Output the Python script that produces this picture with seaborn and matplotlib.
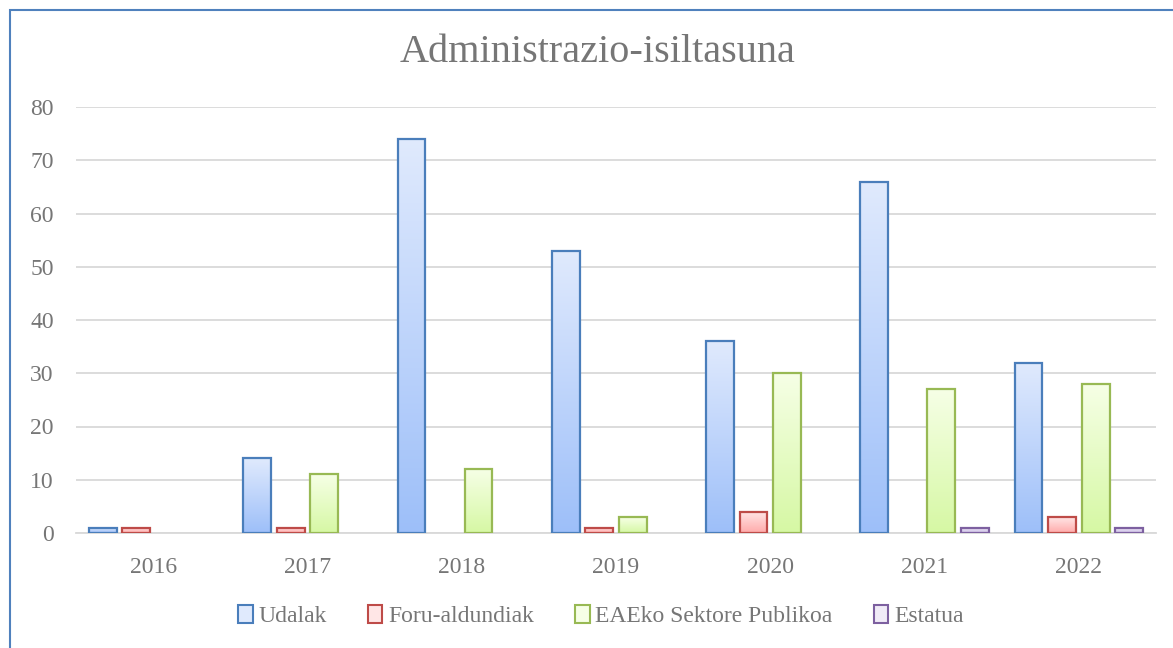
import numpy as np
import pandas as pd
import matplotlib
matplotlib.use("Agg")
import matplotlib.pyplot as plt
import seaborn as sns
from matplotlib.colors import LinearSegmentedColormap
from matplotlib.patches import Rectangle, Patch

years = ["2016", "2017", "2018", "2019", "2020", "2021", "2022"]
series = ["Udalak", "Foru-aldundiak", "EAEko Sektore Publikoa", "Estatua"]
udalak = [1, 14, 74, 53, 36, 66, 32]
foru = [1, 1, 0, 1, 4, 0, 3]
eae = [0, 11, 12, 3, 30, 27, 28]
estatua = [0, 0, 0, 0, 0, 1, 1]
title = "Administrazio-isiltasuna"

edge_colors = ["#4a7ebb", "#be4b48", "#98b954", "#7d60a0"]
top_colors = ["#e0eafd", "#ffe6e6", "#f6ffe6", "#f0ebf7"]
bot_colors = ["#9dbff9", "#ffaaaa", "#d6f8a4", "#cdbfe6"]

df = pd.DataFrame({
    "year": years * 4,
    "series": sum([[s] * len(years) for s in series], []),
    "value": udalak + foru + eae + estatua,
})

sns.set_theme(style="white")
plt.rcParams["font.family"] = ["Liberation Serif", "DejaVu Serif"]
txt = "#767676"

fig = plt.figure(figsize=(11.73, 6.48), dpi=100)
ax = fig.add_axes([76 / 1173, 1 - 533 / 648, 1080 / 1173, (533 - 107) / 648])

sns.barplot(data=df, x="year", y="value", hue="series", hue_order=series,
            order=years, palette=bot_colors, width=0.869, ax=ax, legend=False,
            saturation=1)

ax.set_xlim(-0.5, 6.5)
ax.set_ylim(0, 80)
ax.set_autoscale_on(False)

grad = np.linspace(1, 0, 256).reshape(-1, 1)
bar_w = 0.18
for i, cont in enumerate(ax.containers):
    cmap = LinearSegmentedColormap.from_list(f"g{i}", [bot_colors[i], top_colors[i]])
    for p in cont.patches:
        h = p.get_height()
        cx = p.get_x() + p.get_width() / 2
        p.set_width(bar_w)
        p.set_x(cx - bar_w / 2)
        if h <= 0:
            p.set_visible(False)
            continue
        p.set_facecolor("none")
        p.set_edgecolor(edge_colors[i])
        p.set_linewidth(1.6)
        p.set_zorder(3)
        im = ax.imshow(grad, cmap=cmap, aspect="auto",
                       extent=[cx - bar_w / 2, cx + bar_w / 2, 0, h],
                       zorder=2.5, interpolation="bilinear")
        im.set_clip_path(p)

ax.set_xlim(-0.5, 6.5)
ax.set_ylim(0, 80)
ax.set_yticks(range(0, 81, 10))
ax.yaxis.grid(True, color="#d9d9d9", linewidth=1.3)
ax.set_axisbelow(True)
for s in ["top", "right", "left"]:
    ax.spines[s].set_visible(False)
ax.spines["bottom"].set_color("#d9d9d9")
ax.spines["bottom"].set_linewidth(1.3)
ax.tick_params(axis="both", length=0, labelsize=17, colors=txt)
ax.tick_params(axis="x", pad=17)
ax.tick_params(axis="y", pad=16)
ax.set_xlabel("")
ax.set_ylabel("")

fig.text(598 / 1173, 1 - 53 / 648, title, ha="center", va="center",
         fontsize=29, color=txt)

handles = [Patch(facecolor=top_colors[i], edgecolor=edge_colors[i], linewidth=1.5)
           for i in range(4)]
fig.legend(handles, series, loc="center", bbox_to_anchor=(601 / 1173, 1 - 616 / 648),
           ncol=4, frameon=False, fontsize=17, labelcolor=txt,
           handlelength=0.6, handleheight=0.8, handletextpad=0.25, columnspacing=1.75)

fig.patches.append(Rectangle((10 / 1173, -0.05), 1.2, 1 - 10 / 648 + 0.05,
                             transform=fig.transFigure, fill=False,
                             edgecolor="#4f81bd", linewidth=1.5))

fig.savefig("out.png", dpi=100)
